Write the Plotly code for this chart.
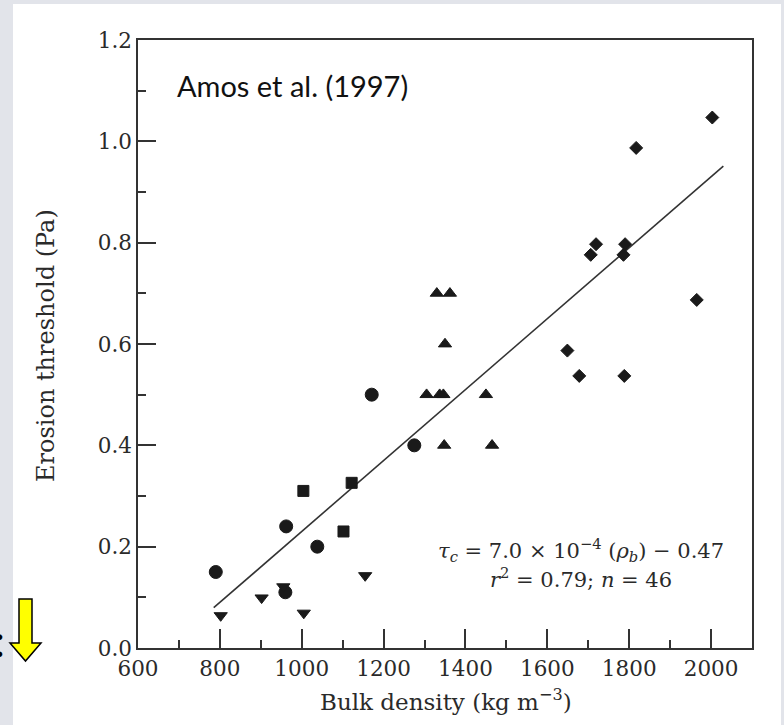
import plotly.graph_objects as go

# Bulk density (kg m^-3) and erosion threshold (Pa), grouped by marker symbol
circle_rho = [790, 960, 962, 1038, 1171, 1275]
circle_tau = [0.15, 0.11, 0.24, 0.20, 0.50, 0.40]

square_rho = [1004, 1102, 1122]
square_tau = [0.31, 0.23, 0.326]

tri_up_rho = [1330, 1362, 1350, 1305, 1337, 1346, 1450, 1348, 1465]
tri_up_tau = [0.70, 0.70, 0.60, 0.50, 0.50, 0.50, 0.50, 0.40, 0.40]

tri_down_rho = [802, 902, 955, 1005, 1155]
tri_down_tau = [0.064, 0.099, 0.121, 0.069, 0.143]

diamond_rho = [1649, 1678, 1706, 1719, 1786, 1790, 1788, 1817, 1965, 2003]
diamond_tau = [0.587, 0.537, 0.776, 0.797, 0.776, 0.797, 0.537, 0.987, 0.687, 1.047]

# Linear fit  tau_c = 7.0e-4 * rho_b - 0.47
fit_slope = 7.0e-4
fit_intercept = -0.47
fit_rho = [785, 2030]

x_ticks = [600, 800, 1000, 1200, 1400, 1600, 1800, 2000]
y_ticks = [0.0, 0.2, 0.4, 0.6, 0.8, 1.0, 1.2]

W, H = 784, 725
L, R, T, B = 138, 32, 40, 77
PW, PH = W - L - R, H - T - B


def px(xp):
    return (xp - L) / PW


def py(yp):
    return (H - B - yp) / PH


INK = "#1a1a1a"
AXIS = "#333333"
TEXT = "#2a2a2a"
SERIF = "DejaVu Serif"

fig = go.Figure()

fig.add_trace(go.Scatter(
    x=fit_rho, y=[fit_slope * r + fit_intercept for r in fit_rho],
    mode="lines", line=dict(color="#333333", width=1.6), hoverinfo="skip"))

for rho, tau, sym, size in [
    (circle_rho, circle_tau, "circle", 13),
    (square_rho, square_tau, "square", 11),
    (tri_up_rho, tri_up_tau, "triangle-up", 11.5),
    (tri_down_rho, tri_down_tau, "triangle-down", 11.5),
    (diamond_rho, diamond_tau, "diamond", 10),
]:
    fig.add_trace(go.Scatter(
        x=rho, y=tau, mode="markers",
        marker=dict(symbol=sym, size=size, color=INK,
                    line=dict(color=INK, width=1))))

axis_common = dict(
    showline=True, linecolor=AXIS, linewidth=1.5, mirror=True,
    ticks="inside", tickcolor=AXIS, tickwidth=1.5,
    showgrid=False, zeroline=False,
    tickfont=dict(family=SERIF, size=21.5, color=TEXT),
)

fig.update_xaxes(range=[600, 2100], tickvals=x_ticks, ticklen=19,
                 minor=dict(dtick=100, tick0=600, ticks="inside", ticklen=8,
                            tickcolor=AXIS, tickwidth=1.5),
                 **axis_common)
fig.update_yaxes(range=[0, 1.2], tickvals=y_ticks, ticklen=18,
                 tickformat=".1f",
                 minor=dict(dtick=0.1, tick0=0, ticks="inside", ticklen=8,
                            tickcolor=AXIS, tickwidth=1.5),
                 **axis_common)

shapes = [
    # white panel over the grey page
    dict(type="rect", xref="paper", yref="paper", layer="below",
         x0=px(13), x1=px(781), y0=py(740), y1=py(4),
         fillcolor="white", line=dict(width=0)),
    # yellow pointer arrow
    dict(type="path", xref="paper", yref="paper",
         path="M {a},{b} L {c},{b} L {c},{d} L {e},{d} L {f},{g} L {h},{d} L {a},{d} Z".format(
             a=px(19), c=px(32), b=py(599), d=py(643),
             e=px(41), f=px(25.5), g=py(661), h=px(10)),
         fillcolor="#ffff00", line=dict(color="#000000", width=1.5)),
]

annotations = [
    dict(text="Amos et al. (1997)", xref="paper", yref="paper",
         x=px(175), y=py(85), xanchor="left", yanchor="middle",
         showarrow=False, font=dict(family="Lato", size=29, color="#111111")),
    dict(text="<i>τ</i><sub><i>c</i></sub> = 7.0 × 10<sup>−4</sup> (<i>ρ</i><sub><i>b</i></sub>) − 0.47",
         xref="paper", yref="paper", x=px(581), y=py(550),
         xanchor="center", yanchor="middle",
         showarrow=False, font=dict(family=SERIF, size=21, color=TEXT)),
    dict(text="<i>r</i><sup>2</sup> = 0.79; <i>n</i> = 46",
         xref="paper", yref="paper", x=px(581), y=py(578),
         xanchor="center", yanchor="middle",
         showarrow=False, font=dict(family=SERIF, size=21, color=TEXT)),
    dict(text="Erosion threshold (Pa)", xref="paper", yref="paper",
         x=px(46), y=py(346), xanchor="center", yanchor="middle", textangle=-90,
         showarrow=False, font=dict(family=SERIF, size=24, color=TEXT)),
    dict(text="Bulk density (kg m<sup>−3</sup>)", xref="paper", yref="paper",
         x=px(446), y=py(700), xanchor="center", yanchor="middle",
         showarrow=False, font=dict(family=SERIF, size=23, color=TEXT)),
    dict(text=":", xref="paper", yref="paper",
         x=px(7), y=py(640), xanchor="right", yanchor="middle",
         showarrow=False, font=dict(family="Lato", size=44, color="#000000")),
]

fig.update_layout(
    width=W, height=H,
    margin=dict(l=L, r=R, t=T, b=B, pad=0),
    paper_bgcolor="#e2e4ea", plot_bgcolor="white",
    showlegend=False,
    shapes=shapes, annotations=annotations,
)

fig.write_html("out.html")
